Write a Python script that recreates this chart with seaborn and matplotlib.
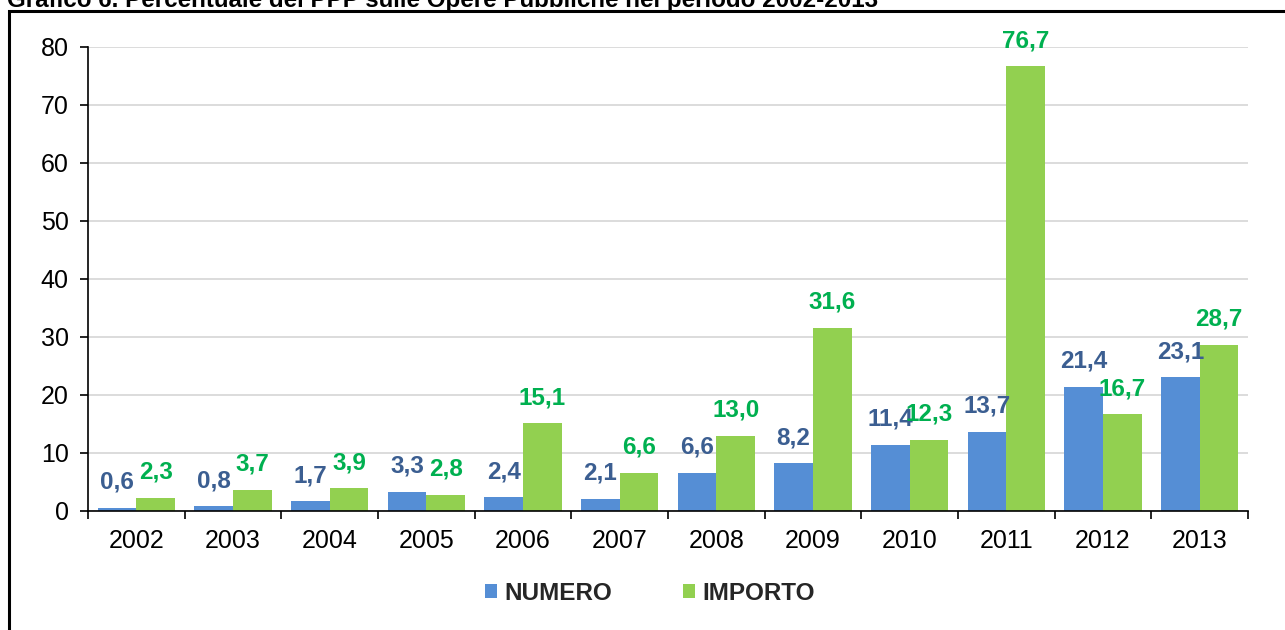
import pandas as pd
import seaborn as sns
import matplotlib
matplotlib.use('Agg')
import matplotlib.pyplot as plt
from matplotlib.patches import Rectangle

# data
anni = ['2002', '2003', '2004', '2005', '2006', '2007', '2008', '2009', '2010', '2011', '2012', '2013']
numero = [0.6, 0.8, 1.7, 3.3, 2.4, 2.1, 6.6, 8.2, 11.4, 13.7, 21.4, 23.1]
importo = [2.3, 3.7, 3.9, 2.8, 15.1, 6.6, 13.0, 31.6, 12.3, 76.7, 16.7, 28.7]
serie = ['NUMERO', 'IMPORTO']
titolo = 'Grafico 6. Percentuale dei PPP sulle Opere Pubbliche nel periodo 2002-2013'

colori_barre = ['#558ED5', '#92D050']
colori_etichette = ['#3B5E91', '#00B050']

df = pd.DataFrame({
    'anno': anni * 2,
    'valore': numero + importo,
    'serie': [serie[0]] * len(anni) + [serie[1]] * len(anni),
})

sns.set_theme(style='white')
plt.rcParams['font.family'] = ['Liberation Sans', 'DejaVu Sans']

fig = plt.figure(figsize=(12.85, 6.3), dpi=100)
ax = fig.add_axes([88 / 1285, 1 - 511 / 630, (1248 - 88) / 1285, (511 - 47) / 630])

sns.barplot(data=df, x='anno', y='valore', hue='serie', palette=colori_barre,
            saturation=1, width=0.8, edgecolor='none', linewidth=0, ax=ax)

# value labels with italian decimal comma
for cont, vals, col in zip(ax.containers, [numero, importo], colori_etichette):
    ax.bar_label(cont, labels=[f'{v:.1f}'.replace('.', ',') for v in vals],
                 padding=10, color=col, fontsize=17.5, fontweight='bold')

ax.set_ylim(0, 80)
ax.set_xlim(-0.5, len(anni) - 0.5)
ax.set_yticks(range(0, 81, 10))
ax.set_xlabel('')
ax.set_ylabel('')
ax.yaxis.grid(True, color='#D9D9D9', linewidth=1.3)
ax.set_axisbelow(True)

for s in ['top', 'right']:
    ax.spines[s].set_visible(False)
for s in ['left', 'bottom']:
    ax.spines[s].set_color('black')
    ax.spines[s].set_linewidth(1.2)

ax.tick_params(axis='y', left=True, length=6, width=1.2, color='black',
               labelsize=18, pad=8, labelcolor='black')
ax.tick_params(axis='x', which='major', length=0, labelsize=18, pad=13, labelcolor='black')
ax.set_xticks([i - 0.5 for i in range(len(anni) + 1)], minor=True)
ax.tick_params(axis='x', which='minor', bottom=True, length=6, width=1.2, color='black')

# legend at the bottom
handles, labels = ax.get_legend_handles_labels()
ax.get_legend().remove()
fig.legend(handles, labels, loc='center', bbox_to_anchor=(650 / 1285, 1 - 593 / 630),
           ncol=2, frameon=False, handlelength=0.5, handleheight=0.5,
           handletextpad=0.3, columnspacing=2.9,
           prop={'weight': 'bold', 'size': 17.5})

# outer frame, cut at the right and bottom
fig.add_artist(Rectangle((8.5 / 1285, -0.2), 2, 1.2 - 10.5 / 630, transform=fig.transFigure,
                         fill=False, edgecolor='black', linewidth=2.2))

# title clipped at the top edge
fig.text(7 / 1285, 1 - 7 / 630, titolo, ha='left', va='baseline',
         fontsize=17.4, fontweight='bold', color='black')

fig.savefig('out.png', dpi=100)
